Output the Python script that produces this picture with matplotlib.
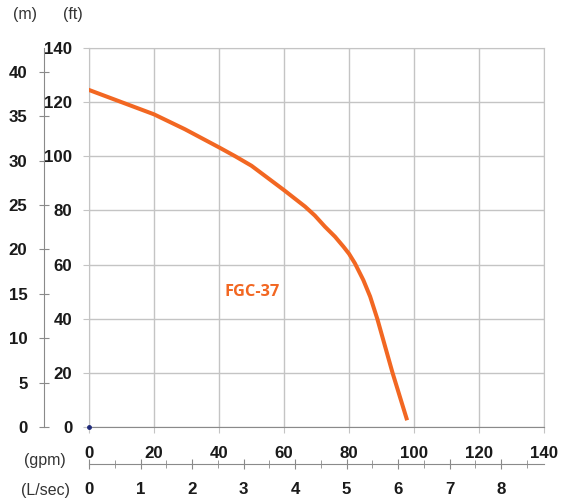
import numpy as np
import matplotlib.pyplot as plt

plt.rcParams["font.family"] = "Liberation Sans"

# pump curve (flow in gpm, head in ft)
flow_gpm = [0, 10, 20, 29.5, 40, 45, 50, 60, 66.5, 69.5, 72.6, 75.7, 78.3, 80,
            81.8, 84.4, 86.5, 88.7, 93.4, 97.7]
head_ft = [124.5, 120, 115.5, 110, 103.3, 100, 96.5, 87.5, 81.4, 78.1, 74, 70.3, 66.6, 64,
           60.5, 54.3, 48.2, 40, 20, 3.2]

gpm_ticks = [0, 20, 40, 60, 80, 100, 120, 140]
ft_ticks = [0, 20, 40, 60, 80, 100, 120, 140]
m_ticks = [0, 5, 10, 15, 20, 25, 30, 35, 40]
lps_ticks = [0, 1, 2, 3, 4, 5, 6, 7, 8]
lps_minor = [0.5, 1.5, 2.5, 3.5, 4.5, 5.5, 6.5, 7.5, 8.5]

FT_PER_M = 3.281
GPM_PER_LPS = 15.85

W, H = 563, 501
fig = plt.figure(figsize=(W / 100, H / 100), dpi=100)
ax = fig.add_axes([89 / W, 1 - 427 / H, 455 / W, 379 / H])

grid_c = "#c4c4c4"
text_c = "#1a1a1a"
tick_fs = 12.2

ax.plot(flow_gpm, head_ft, color="#f26722", lw=2.9, solid_joinstyle="round", zorder=3)
ax.plot([0], [0], "o", ms=2.5, color="#1f2a7a", clip_on=False, zorder=4)
ax.text(50.3, 49.7, "FGC-37", color="#f26722", fontsize=11.8, fontweight="bold",
        family="Open Sans", ha="center", va="center")

ax.set_xlim(0, 140)
ax.set_ylim(0, 140)
ax.set_xticks(gpm_ticks)
ax.set_yticks(ft_ticks)
ax.grid(True, color=grid_c, lw=1)
ax.set_axisbelow(True)
for s in ["left", "top", "right"]:
    ax.spines[s].set_color(grid_c)
ax.spines["bottom"].set_color("#8a8a8a")
ax.tick_params(axis="both", direction="out", length=4.3, color=grid_c,
               labelsize=tick_fs, labelcolor=text_c)
ax.tick_params(axis="x", pad=9.4)
ax.tick_params(axis="y", pad=7.6)
for lab in ax.get_xticklabels() + ax.get_yticklabels():
    lab.set_fontweight("bold")

# metres axis on the far left
may = ax.secondary_yaxis(-44.7 / 455, functions=(lambda f: f / FT_PER_M, lambda m: m * FT_PER_M))
may.set_yticks(m_ticks)
may.spines["left"].set_color("#8a8a8a")
may.tick_params(direction="inout", length=7.9, pad=8.2, color="#8a8a8a",
                labelsize=tick_fs, labelcolor=text_c)
for lab in may.get_yticklabels():
    lab.set_fontweight("bold")

# L/sec axis underneath
lax = ax.secondary_xaxis(-37.3 / 379, functions=(lambda g: g / GPM_PER_LPS, lambda l: l * GPM_PER_LPS))
lax.set_xticks(lps_ticks)
lax.set_xticks(lps_minor, minor=True)
lax.spines["bottom"].set_color("#8a8a8a")
lax.tick_params(which="both", direction="inout", color="#8a8a8a",
                labelsize=tick_fs, labelcolor=text_c)
lax.tick_params(which="major", length=7.2, pad=9.4)
lax.tick_params(which="minor", length=6)
for lab in lax.get_xticklabels():
    lab.set_fontweight("bold")

lab_kw = dict(fontsize=11.5, color="#333333", ha="center", va="center")
fig.text(25 / W, 1 - 14 / H, "(m)", **lab_kw)
fig.text(73 / W, 1 - 14 / H, "(ft)", **lab_kw)
fig.text(45 / W, 1 - 460 / H, "(gpm)", **lab_kw)
fig.text(45 / W, 1 - 490 / H, "(L/sec)", **lab_kw)

fig.savefig("out.png", dpi=100)
